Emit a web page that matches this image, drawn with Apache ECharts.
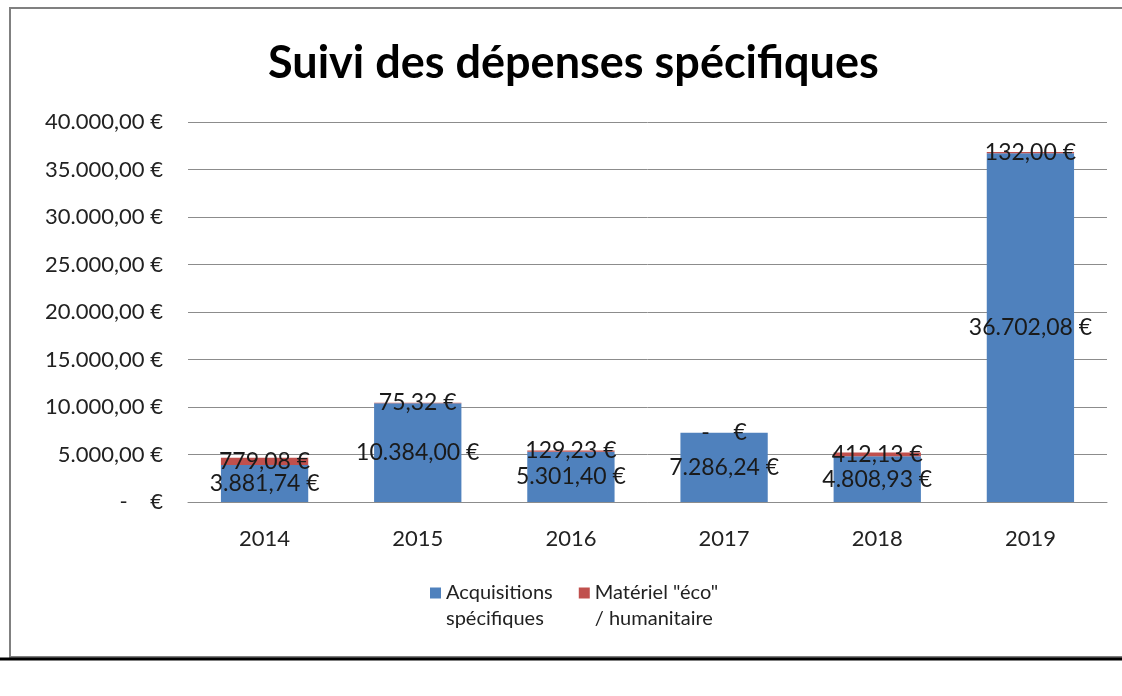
<!DOCTYPE html>
<html>
<head>
<meta charset="utf-8">
<script src="https://cdn.jsdelivr.net/npm/echarts@6/dist/echarts.min.js"></script>
<style>
  html, body { margin: 0; padding: 0; background: #fff; }
  #main { width: 1122px; height: 696px; }
</style>
</head>
<body>
<div id="main"></div>
<script>
// données
var annees = ['2014', '2015', '2016', '2017', '2018', '2019'];
var acquisitions = [3881.74, 10384.00, 5301.40, 7286.24, 4808.93, 36702.08];
var materielEco = [779.08, 75.32, 129.23, 0, 412.13, 132.00];
var nomsSeries = ['Acquisitions spécifiques', 'Matériel "éco" / humanitaire'];
var legendeLignes = [['Acquisitions', 'spécifiques'], ['Matériel "éco"', '/ humanitaire']];

// format comptable à la française : 1.234,56 €
function euro(v) {
    if (!v) return '-    €';
    var parts = v.toFixed(2).split('.');
    parts[0] = parts[0].replace(/\B(?=(\d{3})+(?!\d))/g, '.');
    return parts[0] + ',' + parts[1] + ' €';
}

var police = 'Lato';
var myChart = echarts.init(document.getElementById('main'));

var labelStyle = {
    show: true,
    position: 'inside',
    color: '#1a1a1a',
    fontSize: 23,
    fontFamily: police,
    formatter: function (p) { return euro(p.value); }
};

option = {
    animation: false,
    backgroundColor: '#fff',
    title: {
        text: 'Suivi des dépenses spécifiques',
        left: 263,
        top: 36,
        textStyle: { fontSize: 45, fontWeight: 'bold', color: '#000', fontFamily: police }
    },
    grid: { left: 188, right: 15, top: 122, bottom: 194 },
    legend: {
        top: 549,
        left: 425,
        itemWidth: 11,
        itemHeight: 11,
        itemGap: 26,
        icon: 'rect',
        textStyle: { fontSize: 20, color: '#222', fontFamily: police, lineHeight: 26 },
        // ligne vide en tête : le carré reste aligné sur la première ligne
        formatter: function (name) {
            var l = legendeLignes[nomsSeries.indexOf(name)];
            return ' \n' + l[0] + '\n' + l[1];
        },
        data: nomsSeries
    },
    xAxis: {
        type: 'category',
        data: annees,
        axisTick: { show: false },
        axisLine: { lineStyle: { color: '#8c8c8c', width: 1 } },
        axisLabel: { fontSize: 22, color: '#222', fontFamily: police, margin: 26 }
    },
    yAxis: {
        type: 'value',
        min: 0,
        max: 40000,
        interval: 5000,
        axisLine: { show: false },
        axisTick: { show: false },
        splitLine: { lineStyle: { color: '#8c8c8c', width: 1 } },
        axisLabel: {
            fontSize: 22, color: '#222', fontFamily: police, margin: 25,
            formatter: function (v) { return euro(v); }
        }
    },
    series: [
        {
            name: nomsSeries[0],
            type: 'bar',
            stack: 'total',
            barWidth: '57%',
            itemStyle: { color: '#4F81BD' },
            label: labelStyle,
            data: acquisitions
        },
        {
            name: nomsSeries[1],
            type: 'bar',
            stack: 'total',
            itemStyle: { color: '#C0504D' },
            label: labelStyle,
            data: materielEco
        }
    ],
    graphic: [
        {
            type: 'rect',
            shape: { x: 10, y: 8, width: 1140, height: 649 },
            style: { fill: 'none', stroke: '#808080', lineWidth: 2 },
            silent: true
        },
        {
            type: 'line',
            shape: { x1: 0, y1: 659, x2: 1122, y2: 659 },
            style: { stroke: '#000', lineWidth: 3 },
            silent: true
        }
    ]
};
myChart.setOption(option);
</script>
</body>
</html>
